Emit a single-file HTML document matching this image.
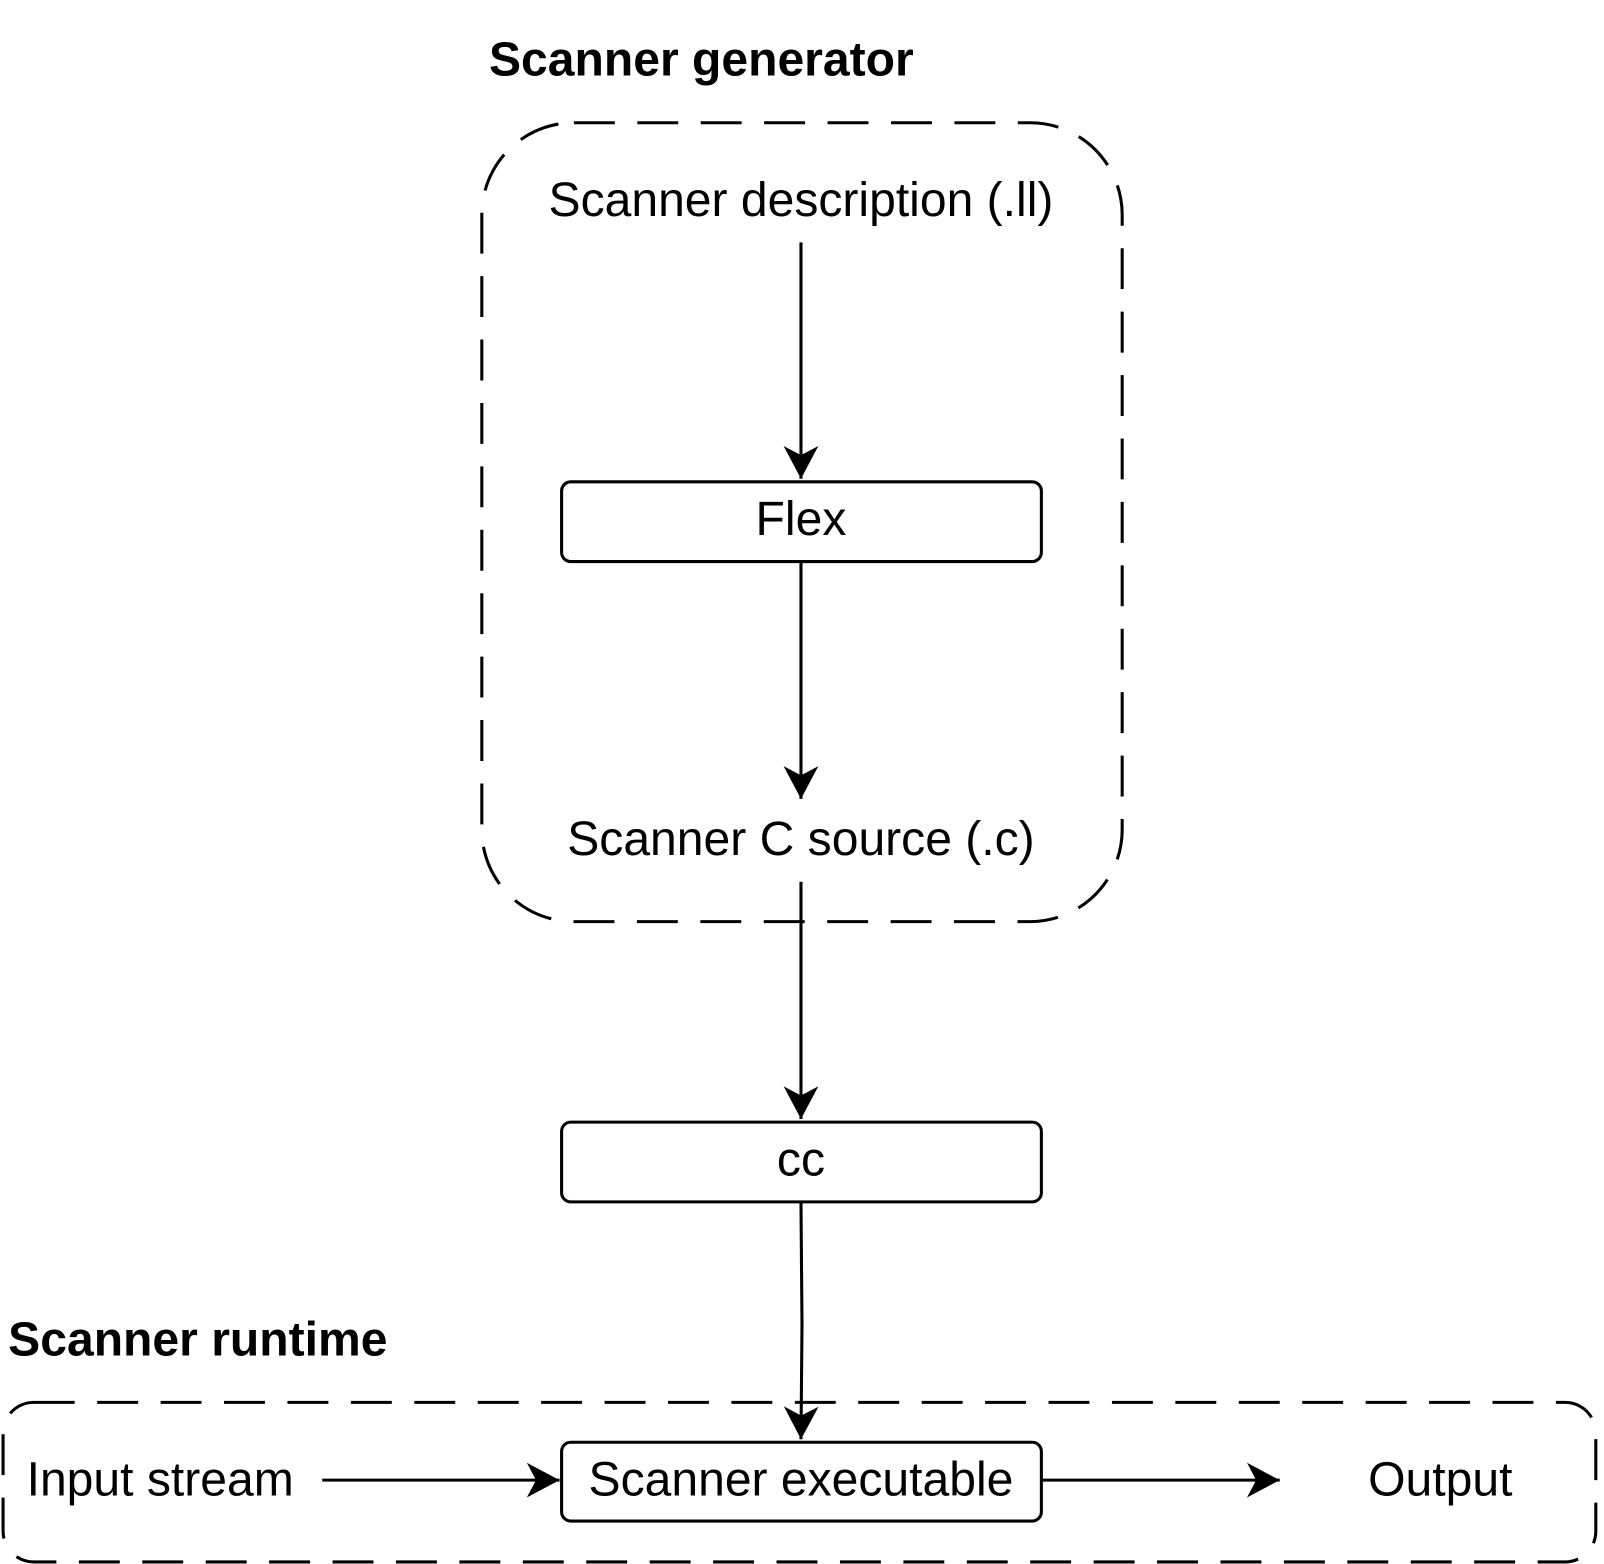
<!DOCTYPE html>
<html><head><style>html,body{margin:0;padding:0;background:#fff}svg{display:block}</style></head>
<body>
<svg width="1604" height="1564" viewBox="0 0 1568 1529" preserveAspectRatio="none" xmlns="http://www.w3.org/2000/svg" font-family="Liberation Sans, Arial, sans-serif">
<defs>
<marker id="a" markerUnits="userSpaceOnUse" markerWidth="40" markerHeight="40" refX="32" refY="17" orient="auto">
<path d="M0,0 L32,17 L0,34 L9,17 Z" fill="#000"/>
</marker>
</defs>
<g fill="none" stroke="#000" stroke-width="3">
<rect x="471" y="120" width="626" height="781" rx="90" stroke-dasharray="40 22"/>
<rect x="3" y="1371" width="1557" height="156" rx="30" stroke-dasharray="40 22"/>
<rect x="549" y="471" width="469" height="78" rx="9"/>
<rect x="549" y="1097" width="469" height="78" rx="9"/>
<rect x="549" y="1410" width="469" height="77" rx="9"/>
<path d="M783 237 V468" marker-end="url(#a)"/>
<path d="M783 549 V781" marker-end="url(#a)"/>
<path d="M783 862 V1094" marker-end="url(#a)"/>
<path d="M783 1175 L784 1295 L783 1407" marker-end="url(#a)"/>
<path d="M315 1447 H547" marker-end="url(#a)"/>
<path d="M1018 1447 H1251" marker-end="url(#a)"/>
</g>
<g font-size="47" fill="#000">
<text x="478" y="74" font-weight="bold" font-size="47">Scanner generator</text>
<text x="8" y="1325" font-weight="bold" font-size="47">Scanner runtime</text>
<text x="783" y="211" text-anchor="middle">Scanner description (.ll)</text>
<text x="783" y="523" text-anchor="middle">Flex</text>
<text x="783" y="836" text-anchor="middle">Scanner C source (.c)</text>
<text x="783" y="1149" text-anchor="middle">cc</text>
<text x="783" y="1462" text-anchor="middle">Scanner executable</text>
<text x="26" y="1462">Input stream</text>
<text x="1408" y="1462" text-anchor="middle">Output</text>
</g>
</svg>
</body></html>
